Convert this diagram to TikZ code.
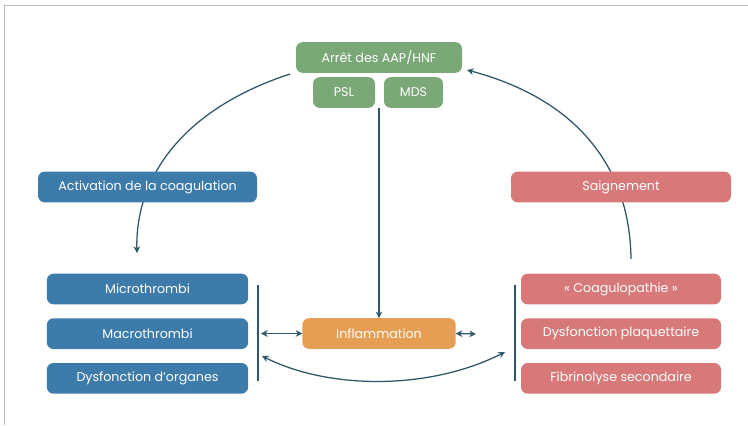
\documentclass[tikz,border=0pt]{standalone}
\usepackage{fontspec}
\setmainfont{Poppins}
\usetikzlibrary{positioning,arrows.meta}
\definecolor{aapgreen}{HTML}{7AA876}
\definecolor{coagblue}{HTML}{3D7BAA}
\definecolor{bleedred}{HTML}{D77979}
\definecolor{inflorange}{HTML}{E59E54}
\definecolor{linkblue}{HTML}{2F5669}
\definecolor{framegray}{HTML}{BDBDBD}
\pgfdeclarelayer{background}
\pgfsetlayers{background,main}

\begin{document}
\begin{tikzpicture}[
  x=0.75pt, y=-0.75pt,
  font=\fontsize{9.5}{11}\selectfont,
  node distance = 10.5pt,
  ]
  \tikzstyle{box}=[rounded corners=5pt,text=white,inner sep=0pt,outer sep=0pt,minimum height=23pt]
  \tikzstyle{green box}=[box,fill=aapgreen]
  \tikzstyle{blue box}=[box,fill=coagblue,minimum width=151pt]
  \tikzstyle{red box}=[box,fill=bleedred,minimum width=150pt]
  \tikzstyle{orange box}=[box,fill=inflorange,minimum width=115pt]
  \tikzstyle{link}=[draw=linkblue,line width=0.95pt,-{Stealth[length=5pt,width=5pt]}]
  \tikzstyle{both link}=[link,{Stealth[length=5pt,width=5pt]}-{Stealth[length=5pt,width=5pt]}]
  \tikzstyle{bar}=[draw=linkblue,line width=0.95pt]

  \useasboundingbox (0,0) rectangle (748,425);
  \draw[framegray] (4,425) -- (4,5) -- (748,5);

  % top
  \node(arret)[green box, minimum width=124.5pt] at (379,57.5){Arrêt des AAP/HNF};
  \node(psl)[green box, minimum width=46.5pt] at (344,92.5){PSL};
  \node(mds)[green box, minimum width=44.25pt] at (413.5,92.5){MDS};

  % left side
  \node(activ)[blue box, minimum width=164.25pt] at (147.5,187){Activation de la coagulation};
  \node(micro)[blue box] at (147.5,289){Microthrombi};
  \node(macro)[blue box, below=of micro]{Macrothrombi};
  \node(organ)[blue box, below=of macro]{Dysfonction d’organes};

  % right side
  \node(saign)[red box, minimum width=165pt] at (621,187){Saignement};
  \node(coagulo)[red box] at (621,289){« Coagulopathie »};
  \node(plaq)[red box, below=of coagulo]{Dysfonction plaquettaire};
  \node(fibri)[red box, below=of plaq]{Fibrinolyse secondaire};

  % centre
  \node(inflam)[orange box] at (379,333.5){Inflammation};

  % free ends
  \coordinate(arretL) at (290,74);
  \coordinate(actTip) at (137,253);
  \coordinate(saignB) at (631,259);
  \coordinate(arretR) at (467,70);
  \coordinate(down) at (379,108);
  \coordinate(barLtop) at (258,285);
  \coordinate(barLbot) at (258,381);
  \coordinate(barRtop) at (515,285);
  \coordinate(barRbot) at (515,381);
  \coordinate(leftIn) at (261,333.5);
  \coordinate(rightIn) at (476,334);
  \coordinate(loopL) at (262,356);
  \coordinate(loopR) at (505,352);

  % the two big arcs pass behind activ and saign
  \begin{pgfonlayer}{background}
    \draw[link] (arretL) .. controls (180,110) and (135,180) .. (actTip);
    \draw[link] (saignB) .. controls (630,170) and (580,100) .. (arretR);
  \end{pgfonlayer}

  \draw[link] (down) -- (inflam.north);
  \draw[bar] (barLtop) -- (barLbot);
  \draw[bar] (barRtop) -- (barRbot);
  \draw[both link] (leftIn) -- (inflam.west);
  \draw[both link] (inflam.east) -- (rightIn);
  \draw[both link] (loopL) .. controls (330,390) and (430,390) .. (loopR);
\end{tikzpicture}
\end{document}
